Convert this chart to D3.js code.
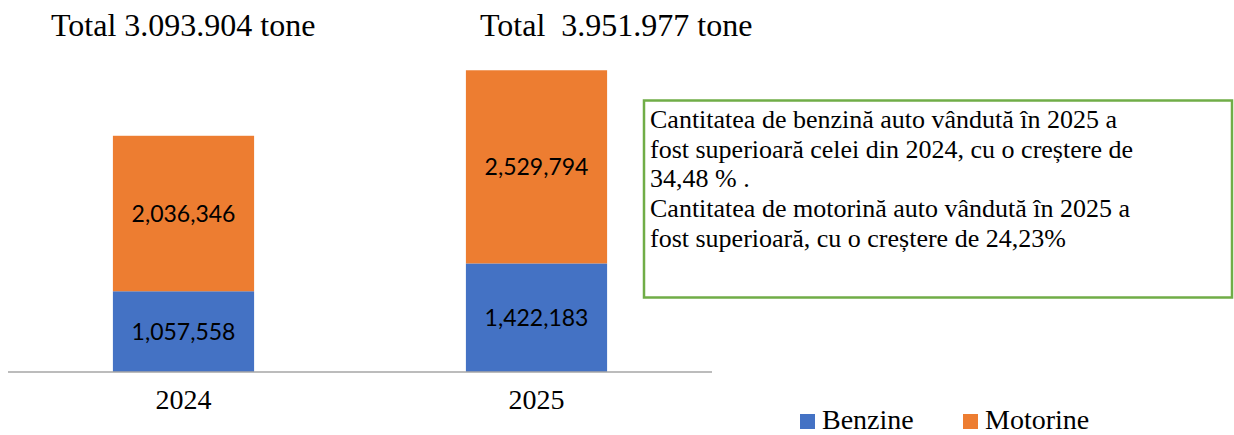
<!DOCTYPE html>
<html>
<head>
<meta charset="utf-8">
<script src="https://cdn.jsdelivr.net/npm/d3@7"></script>
<style>
  html, body { margin: 0; padding: 0; background: #fff; }
  svg { display: block; }
</style>
</head>
<body>
<svg id="chart" width="1234" height="435"></svg>
<script>
// ---- data ----
const categories = ["2024", "2025"];
const benzine = [1057558, 1422183];
const motorine = [2036346, 2529794];
const totalLabels = ["Total 3.093.904 tone", "Total\u00A0 3.951.977 tone"];
const seriesNames = ["Benzine", "Motorine"];
const noteLines = [
  "Cantitatea de benzină auto vândută în 2025 a",
  "fost superioară celei din 2024, cu o creștere de",
  "34,48 % .",
  "Cantitatea de motorină auto vândută în 2025 a",
  "fost superioară, cu o creștere de 24,23%"
];

// ---- styles ----
const colors = { Benzine: "#4472C4", Motorine: "#ED7D31" };
const serif = "'Liberation Serif', 'Times New Roman', serif";
const sans = "Lato, 'Open Sans', sans-serif";

const svg = d3.select("#chart");

const table = categories.map((c, i) => ({ cat: c, Benzine: benzine[i], Motorine: motorine[i] }));
const stack = d3.stack().keys(seriesNames)(table);

const baseY = 372;
const x = d3.scaleBand().domain(categories).range([7, 713]).paddingInner(0.6).paddingOuter(0.3);
const y = d3.scaleLinear().domain([0, 4500000]).range([baseY, baseY - 4.5 * 76.35]);

// bars
const layers = svg.append("g").selectAll("g").data(stack).join("g")
  .attr("fill", d => colors[d.key]);
layers.selectAll("rect").data(d => d).join("rect")
  .attr("x", d => x(d.data.cat))
  .attr("width", x.bandwidth())
  .attr("y", d => y(d[1]))
  .attr("height", d => y(d[0]) - y(d[1]));

// value labels
const fmt = d3.format(",");
layers.selectAll("text").data(d => d.map(v => ({ v, key: d.key }))).join("text")
  .attr("x", d => x(d.v.data.cat) + x.bandwidth() / 2)
  .attr("y", d => (y(d.v[0]) + y(d.v[1])) / 2)
  .attr("dy", "0.36em")
  .attr("text-anchor", "middle")
  .attr("fill", "#000")
  .style("font-family", sans)
  .style("font-size", "23px")
  .text(d => fmt(d.v.data[d.key]));

// axis
const axis = svg.append("g").attr("transform", `translate(0,${baseY})`)
  .call(d3.axisBottom(x).tickSize(0).tickPadding(37).tickSizeOuter(0));
axis.select(".domain").attr("stroke", "#A6A6A6").attr("stroke-width", 1.5)
  .attr("d", "M8,0H712");
axis.selectAll(".tick text")
  .attr("dy", 0)
  .style("font-family", serif)
  .style("font-size", "28px")
  .attr("fill", "#000");

// total titles
const titleX = [51, 480];
svg.append("g").selectAll("text").data(totalLabels).join("text")
  .attr("x", (d, i) => titleX[i])
  .attr("y", 36)
  .style("font-family", serif)
  .style("font-size", "32px")
  .attr("fill", "#000")
  .text(d => d);

// note box
svg.append("rect")
  .attr("x", 644).attr("y", 100.5)
  .attr("width", 588).attr("height", 197)
  .attr("fill", "none")
  .attr("stroke", "#70AD47")
  .attr("stroke-width", 2.5);
svg.append("g").selectAll("text").data(noteLines).join("text")
  .attr("x", 650)
  .attr("y", (d, i) => 128 + i * 29.7)
  .style("font-family", serif)
  .style("font-size", "26px")
  .attr("fill", "#000")
  .text(d => d);

// legend
const legendX = [800, 963];
const lg = svg.append("g").selectAll("g").data(seriesNames).join("g")
  .attr("transform", (d, i) => `translate(${legendX[i]},0)`);
lg.append("rect").attr("x", 0).attr("y", 414).attr("width", 15).attr("height", 15)
  .attr("fill", d => colors[d]);
lg.append("text").attr("x", 22).attr("y", 429)
  .style("font-family", serif).style("font-size", "28px").attr("fill", "#000")
  .text(d => d);
</script>
</body>
</html>
